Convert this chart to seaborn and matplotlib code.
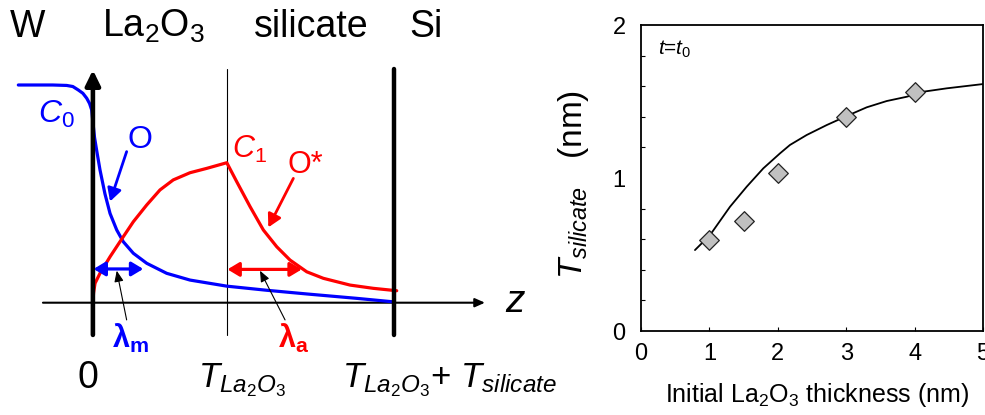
import numpy as np
import pandas as pd
import matplotlib
matplotlib.use("Agg")
import matplotlib.pyplot as plt
import seaborn as sns
from matplotlib.ticker import MultipleLocator, FixedLocator

sns.set_style("white")
plt.rcParams['font.family'] = ['Liberation Sans', 'DejaVu Sans']
plt.rcParams['mathtext.fontset'] = 'custom'
plt.rcParams['mathtext.rm'] = 'Liberation Sans'
plt.rcParams['mathtext.it'] = 'Liberation Sans:italic'
plt.rcParams['mathtext.bf'] = 'Liberation Sans:bold'
plt.rcParams['mathtext.sf'] = 'Liberation Sans'
plt.rcParams['text.color'] = 'black'
plt.rcParams['axes.labelcolor'] = 'black'
plt.rcParams['xtick.color'] = 'black'
plt.rcParams['ytick.color'] = 'black'

# ---------------- data: schematic (left) ----------------
# depth z in units of T_La2O3 ; concentration normalised to C0
blue_z = [-0.557, -0.3, -0.196, -0.15, -0.109, -0.075, -0.046, -0.025, -0.009,
          0.0, 0.012, 0.028, 0.053, 0.09, 0.128, 0.178, 0.227, 0.302, 0.402,
          0.551, 0.725, 1.0, 1.3, 1.6, 1.97, 2.243]
blue_c = [1.0, 1.0, 0.998, 0.993, 0.977, 0.962, 0.939, 0.915, 0.885,
          0.83, 0.76, 0.70, 0.61, 0.50, 0.41, 0.334, 0.28, 0.227, 0.181,
          0.135, 0.104, 0.076, 0.057, 0.040, 0.020, 0.004]
red_z = [0.0, 0.005, 0.016, 0.053, 0.128, 0.202, 0.302, 0.402, 0.501, 0.600,
         0.725, 0.850, 1.0, 1.074, 1.174, 1.273, 1.373, 1.472, 1.597, 1.721,
         1.92, 2.094, 2.269]
red_c = [0.0, 0.045, 0.089, 0.135, 0.211, 0.280, 0.372, 0.449, 0.518, 0.564,
         0.597, 0.617, 0.643, 0.556, 0.441, 0.334, 0.257, 0.196, 0.142, 0.112,
         0.081, 0.066, 0.055]
interfaces = [0.0, 1.0, 2.246]          # W/La2O3, La2O3/silicate, silicate/Si
layer_names = ["W", "La$_2$O$_3$", "silicate", "Si"]
layer_label_z = [-0.485, 0.449, 1.633, 2.491]
lambda_m = [0.0, 0.376]
lambda_a = [1.0, 1.56]

# ---------------- data: T_silicate vs thickness (right) ----------------
meas_x = [1.0, 1.5, 2.0, 3.0, 4.0]
meas_y = [0.595, 0.721, 1.035, 1.40, 1.564]
fit_x = [0.789, 1.009, 1.301, 1.545, 1.788, 2.032, 2.178, 2.422, 2.715, 3.007,
         3.30, 3.592, 3.885, 4.127, 4.469, 5.0]
fit_y = [0.529, 0.627, 0.812, 0.943, 1.063, 1.161, 1.216, 1.281, 1.346, 1.405,
         1.462, 1.503, 1.531, 1.564, 1.586, 1.614]
x_ticks = [0, 1, 2, 3, 4, 5]
y_ticks = [0, 1, 2]

BLUE = "#0000FF"
RED = "#FF0000"

fig = plt.figure(figsize=(9.85, 4.15), dpi=100)

# ---------------- left schematic ----------------
wL = 0.57
axL = fig.add_axes([0, 0, wL, 1])
axL.set_xlim(-92.9 / 133.9, (wL * 985 - 92.9) / 133.9)
axL.set_ylim((302.7 - 415) / 217.7, 302.7 / 217.7)
axL.axis('off')

sns.lineplot(x=blue_z, y=blue_c, ax=axL, color=BLUE, lw=2.3, sort=False,
             estimator=None, zorder=3)
sns.lineplot(x=red_z, y=red_c, ax=axL, color=RED, lw=2.3, sort=False,
             estimator=None, zorder=3)

c_bot, c_top = -0.148, 1.073
# vertical axis at z=0 with arrow
axL.annotate('', xy=(interfaces[0], 1.069), xytext=(interfaces[0], c_bot),
             arrowprops=dict(arrowstyle='-|>,head_length=0.45,head_width=0.22',
                             color='black', lw=3.3, mutation_scale=20,
                             shrinkA=0, shrinkB=0), zorder=5)
axL.plot([interfaces[1]] * 2, [c_bot, c_top], color='black', lw=0.8, zorder=2)
axL.plot([interfaces[2]] * 2, [c_bot, c_top], color='black', lw=3.2, zorder=5)
# z axis
axL.annotate('', xy=(2.928, 0), xytext=(-0.373, 0),
             arrowprops=dict(arrowstyle='-|>,head_length=0.45,head_width=0.2',
                             color='black', lw=1.5, mutation_scale=13,
                             shrinkA=0, shrinkB=0), zorder=2)

# lambda arrows
axL.annotate('', xy=(lambda_m[1], 0.155), xytext=(lambda_m[0] + 0.005, 0.155),
             arrowprops=dict(arrowstyle='<|-|>,head_length=0.5,head_width=0.3',
                             color=BLUE, lw=2.3, mutation_scale=14,
                             shrinkA=0, shrinkB=0), zorder=6)
axL.annotate('', xy=(lambda_a[1], 0.153), xytext=(lambda_a[0] + 0.005, 0.153),
             arrowprops=dict(arrowstyle='<|-|>,head_length=0.5,head_width=0.3',
                             color=RED, lw=2.3, mutation_scale=14,
                             shrinkA=0, shrinkB=0), zorder=6)
# pointer arrows
axL.annotate('', xy=(0.128, 0.465), xytext=(0.252, 0.694),
             arrowprops=dict(arrowstyle='-|>,head_length=0.55,head_width=0.3',
                             color=BLUE, lw=2.0, mutation_scale=14,
                             shrinkA=0, shrinkB=0), zorder=6)
axL.annotate('', xy=(1.310, 0.346), xytext=(1.497, 0.571),
             arrowprops=dict(arrowstyle='-|>,head_length=0.55,head_width=0.3',
                             color=RED, lw=2.0, mutation_scale=14,
                             shrinkA=0, shrinkB=0), zorder=6)
axL.annotate('', xy=(0.178, 0.147), xytext=(0.252, -0.079),
             arrowprops=dict(arrowstyle='-|>,head_length=0.6,head_width=0.25',
                             color='black', lw=0.8, mutation_scale=11,
                             shrinkA=0, shrinkB=0), zorder=6)
axL.annotate('', xy=(1.248, 0.147), xytext=(1.435, -0.079),
             arrowprops=dict(arrowstyle='-|>,head_length=0.6,head_width=0.25',
                             color='black', lw=0.8, mutation_scale=11,
                             shrinkA=0, shrinkB=0), zorder=6)

# texts
for name, zx in zip(layer_names, layer_label_z):
    axL.text(zx, 1.222, name, fontsize=27, ha='center', va='baseline',
             color='black')
axL.text(-0.410, 0.825, r"$C_{\mathit{0}}$", fontsize=23, color=BLUE,
         ha='left', va='baseline')
axL.text(0.355, 0.711, "O", fontsize=23, color=BLUE, ha='center', va='baseline')
axL.text(1.04, 0.665, r"$C_{\mathit{1}}$", fontsize=22, color=RED,
         ha='left', va='baseline')
axL.text(1.451, 0.594, "O*", fontsize=22, color=RED, ha='left', va='baseline')
axL.text(0.142, -0.208, r"$\mathbf{\lambda_m}$", fontsize=22, color=BLUE,
         ha='left', va='baseline')
axL.text(1.382, -0.208, r"$\mathbf{\lambda_a}$", fontsize=22, color=RED,
         ha='left', va='baseline')
axL.text(-0.036, -0.392, "0", fontsize=27, ha='center', va='baseline',
         color='black')
axL.text(0.785, -0.387, r"$T_{La_2O_3}$", fontsize=25, ha='left',
         va='baseline', color='black')
axL.text(1.860, -0.387, r"$T_{La_2O_3}$+ $T_{silicate}$", fontsize=25,
         ha='left', va='baseline', color='black')
axL.text(3.079, -0.044, r"$z$", fontsize=28, ha='left', va='baseline',
         color='black')

# ---------------- right chart ----------------
axR = fig.add_axes([641 / 985, 1 - 331 / 415, 342 / 985, 306 / 415])
sns.lineplot(x=fit_x, y=fit_y, ax=axR, color='black', lw=1.3, estimator=None,
             sort=False, zorder=2)
sns.scatterplot(x=meas_x, y=meas_y, ax=axR, marker='D', s=100, color='#C0C0C0',
                edgecolor='#222222', linewidth=0.9, zorder=3)
axR.set_xlim(0, 5)
axR.set_ylim(0, 2)
axR.xaxis.set_major_locator(FixedLocator(x_ticks))
axR.yaxis.set_major_locator(FixedLocator(y_ticks))
axR.yaxis.set_minor_locator(MultipleLocator(0.2))
axR.set_xticklabels([str(v) for v in x_ticks])
axR.set_yticklabels([str(v) for v in y_ticks])
axR.tick_params(axis='x', which='major', direction='in', length=3, width=0.8,
                pad=9, labelsize=17, bottom=True, top=False,
                colors='black')
axR.tick_params(axis='y', which='major', direction='in', length=0, pad=11,
                labelsize=17, left=True, colors='black')
axR.tick_params(axis='y', which='minor', direction='in', length=3, width=0.8,
                left=True, right=False, colors='black')
for sp in axR.spines.values():
    sp.set_visible(True)
    sp.set_color('black')
    sp.set_linewidth(1.3)
axR.set_xlabel("Initial La$_2$O$_3$ thickness (nm)", fontsize=18,
               color='black')
axR.xaxis.set_label_coords(0.515, -0.165)
axR.set_ylabel(r"$T_{silicate}$   (nm)", fontsize=24, color='black')
axR.yaxis.set_label_coords(-0.145, 0.48)
axR.text(0.05, 0.92, r"$t$=$t_{\mathit{0}}$", transform=axR.transAxes,
         fontsize=15, ha='left', va='center', color='black')
axR.grid(False)

fig.savefig("out.png", dpi=100)
